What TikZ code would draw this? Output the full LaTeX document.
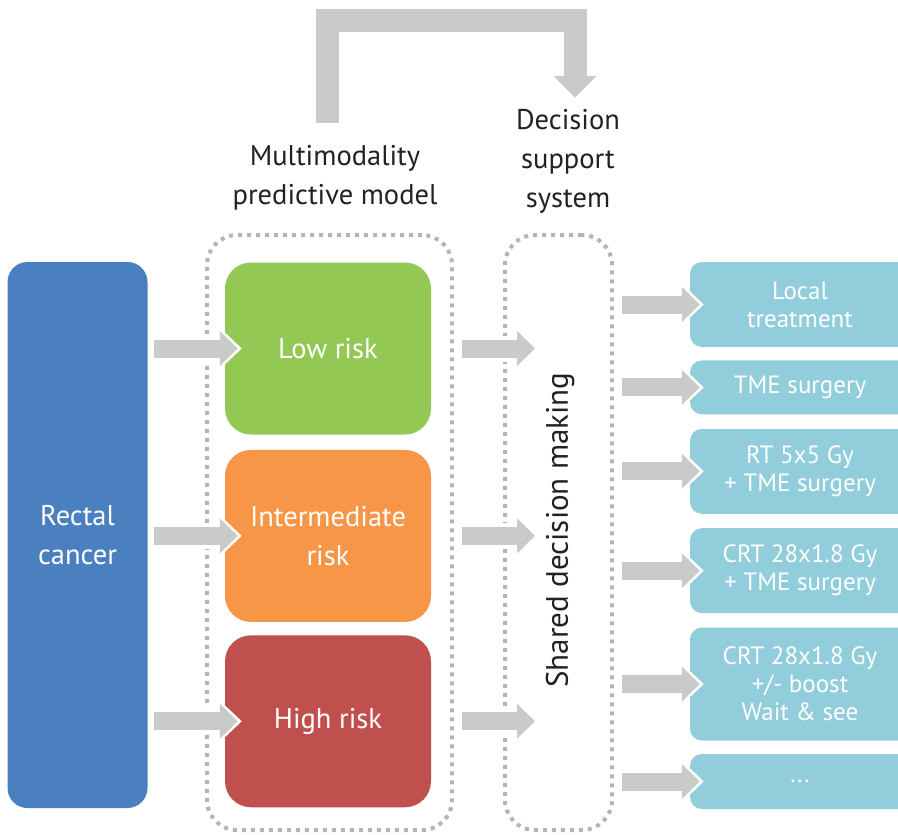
\documentclass[tikz,border=0pt]{standalone}
\usepackage{fontspec}
\setmainfont{PT Sans}
\usetikzlibrary{positioning,arrows.meta,calc}

\definecolor{rcblue}{HTML}{4A80C0}
\definecolor{lowgreen}{HTML}{92C853}
\definecolor{midorange}{HTML}{F79646}
\definecolor{highred}{HTML}{C0504D}
\definecolor{optblue}{HTML}{92CDDC}
\definecolor{flowgray}{HTML}{CACACA}
\definecolor{dotgray}{HTML}{B4B4B4}
\definecolor{txtdark}{HTML}{222222}

\tikzset{
  big/.style={font=\fontsize{28.5}{39}\selectfont},
  risk/.style={big,text=white,minimum width=206pt,minimum height=172pt,
    rounded corners=26pt,align=center,inner sep=0pt},
  choice/.style={text=white,fill=optblue,minimum width=220pt,rounded corners=12pt,
    align=center,font=\fontsize{25}{28}\selectfont,inner sep=0pt},
  dotframe/.style={draw=dotgray,line width=4pt,dash pattern=on 4pt off 5pt,
    rounded corners=30pt,inner sep=0pt},
  flow/.style={flowgray,line width=18pt,-{Triangle[width=34pt,length=18pt]},
    preaction={draw=white,line width=26pt,-{Triangle[width=44pt,length=24pt]},shorten >=-4pt}},
  feedback/.style={flowgray,line width=23pt,line join=miter,-{Triangle[width=42pt,length=22pt]}},
  heading/.style={big,text=txtdark,align=center,inner sep=0pt},
}

\begin{document}
\begin{tikzpicture}[x=1pt,y=-1pt]
\clip (0,0) rectangle (898,835);

% frames
\node[dotframe,minimum width=245pt,minimum height=595pt] (mpm) at (329.5,532.5) {};
\node[dotframe,minimum width=107pt,minimum height=595pt] (dss) at (558.5,532.5) {};
\node[text=txtdark,rotate=90,font=\fontsize{31}{39}\selectfont] (sdm) at (560,530) {Shared decision making};

\node[heading] (mm) at (335,178) {Multimodality\\predictive model};
\node[heading] (ds) at (568,161) {Decision\\support\\system};

% patient
\node[big,text=white,fill=rcblue,minimum width=140pt,minimum height=546pt,
  rounded corners=20pt,align=center] (rc) at (77.5,535) {Rectal\\cancer};

% risk groups
\node[risk,fill=lowgreen] (lo) at (328,348.5) {Low risk};
\node[risk,fill=midorange,below=15pt of lo] (im) {Intermediate\\risk};
\node[risk,fill=highred,below=13pt of im] (hi) {High risk};

% treatment options
\node[choice,minimum height=85pt] (o1) at (800,304.5) {Local\\treatment};
\node[choice,minimum height=54pt,below=13pt of o1] (o2) {TME surgery};
\node[choice,minimum height=85pt,below=14pt of o2] (o3) {RT 5x5 Gy\\+ TME surgery};
\node[choice,minimum height=85pt,below=14pt of o3] (o4) {CRT 28x1.8 Gy\\+ TME surgery};
\node[choice,minimum height=113pt,below=14pt of o4] (o5) {CRT 28x1.8 Gy\\+/- boost\\Wait \& see};
\node[choice,minimum height=55pt,below=13pt of o5] (o6) {...};

% arrows
\draw[flow,shorten <=6pt] (rc.east |- lo) -- ([xshift=13pt]lo.west);
\draw[flow,shorten <=6pt] (rc.east |- im) -- ([xshift=13pt]im.west);
\draw[flow,shorten <=6pt] (rc.east |- hi) -- ([xshift=13pt]hi.west);

\draw[flow,shorten <=8pt] (mpm.east |- lo) -- ($(dss.west |- lo)+(32,0)$);
\draw[flow,shorten <=8pt] (mpm.east |- im) -- ($(dss.west |- im)+(32,0)$);
\draw[flow,shorten <=8pt] (mpm.east |- hi) -- ($(dss.west |- hi)+(32,0)$);

\foreach \o in {o1,o2,o3,o4,o5,o6}
  \draw[flow,shorten <=8pt] (dss.east |- \o) -- ([xshift=10pt]\o.west);

% feedback loop
\coordinate (fbstart) at ([xshift=-8pt,yshift=22pt]mm.north);
\coordinate (fbend) at ([xshift=7pt,yshift=11pt]ds.north);
\coordinate (top) at (0,20);
\draw[feedback] (fbstart) -- (fbstart |- top) -| (fbend);
\end{tikzpicture}
\end{document}
